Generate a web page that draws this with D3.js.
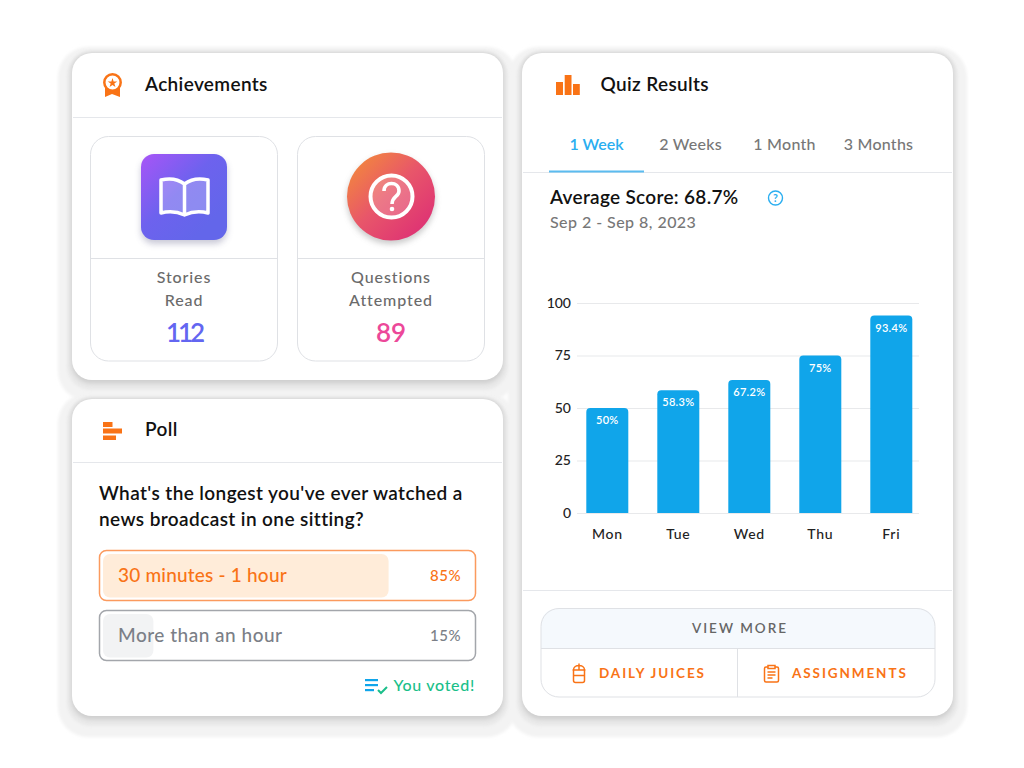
<!DOCTYPE html>
<html>
<head>
<meta charset="utf-8">
<script src="https://cdnjs.cloudflare.com/ajax/libs/d3/7.8.5/d3.min.js"></script>
<style>
html, body { margin: 0; padding: 0; background: #fff; }
svg { display: block; }
text { font-family: Lato, "Noto Sans", sans-serif; }
</style>
</head>
<body>
<div id="vis"></div>
<script>
// chart data
var days = ["Mon", "Tue", "Wed", "Thu", "Fri"];
var barValues = [50, 58.4, 63.3, 75, 94];
var barLabels = ["50%", "58.3%", "67.2%", "75%", "93.4%"];
var yTicks = [0, 25, 50, 75, 100];

var tabNames = ["1 Week", "2 Weeks", "1 Month", "3 Months"];

var pollOptions = ["30 minutes - 1 hour", "More than an hour"];
var pollPercents = [85, 15];

var achievementLines = [["Stories", "Read"], ["Questions", "Attempted"]];
var achievementCounts = [112, 89];

var orange = "#f97316", blue = "#10a5ea", line = "#e5e7eb";

var svg = d3.select("#vis").append("svg").attr("width", 1024).attr("height", 768);
var defs = svg.append("defs");

function blur(id, amount) {
    defs.append("filter").attr("id", id)
        .attr("x", "-20%").attr("y", "-20%").attr("width", "140%").attr("height", "140%")
        .append("feGaussianBlur").attr("stdDeviation", amount);
}
blur("soft", 1.5);
blur("tight", 2);
blur("icon", 3);

function gradient(id, x1, y1, x2, y2, stops) {
    var g = defs.append("linearGradient").attr("id", id)
        .attr("x1", x1).attr("y1", y1).attr("x2", x2).attr("y2", y2);
    stops.forEach(function(s) {
        g.append("stop").attr("offset", s[0]).attr("stop-color", s[1]);
    });
}
gradient("bookFill", 0, 0, 0.8, 0.8, [[0, "#a855f7"], [0.55, "#6d62ee"], [1, "#6366ea"]]);
gradient("questionFill", 0.1, 0.1, 0.85, 0.85, [[0, "#f2853f"], [0.5, "#e8566a"], [1, "#df3573"]]);

function label(g, str, x, y, size, color, weight, anchor, spacing) {
    return g.append("text").text(str)
        .attr("x", x).attr("y", y)
        .attr("font-size", size)
        .attr("fill", color)
        .attr("font-weight", weight || 400)
        .attr("text-anchor", anchor || "start")
        .attr("letter-spacing", spacing || null);
}

function hline(g, x1, x2, y, color) {
    g.append("line").attr("x1", x1).attr("x2", x2).attr("y1", y).attr("y2", y)
        .attr("stroke", color || line).attr("stroke-width", 1);
}

// the three white cards and their halo
var cards = [[72, 53, 431, 327], [72, 399, 431, 317], [522, 53, 431, 663]];
var halo = svg.append("g");
cards.forEach(function(c) {
    halo.append("rect").attr("x", c[0] - 14).attr("y", c[1] - 6)
        .attr("width", c[2] + 28).attr("height", c[3] + 27).attr("rx", 30)
        .attr("fill", "#f3f3f3").attr("filter", "url(#soft)");
});
cards.forEach(function(c) {
    halo.append("rect").attr("x", c[0] - 5).attr("y", c[1] - 1)
        .attr("width", c[2] + 10).attr("height", c[3] + 11).attr("rx", 24)
        .attr("fill", "#e9e9e9").attr("filter", "url(#soft)");
});
cards.forEach(function(c) {
    halo.append("rect").attr("x", c[0] - 0.5).attr("y", c[1] - 0.5)
        .attr("width", c[2] + 1).attr("height", c[3] + 4).attr("rx", 20)
        .attr("fill", "#cfcfcf").attr("filter", "url(#tight)");
});
cards.forEach(function(c) {
    halo.append("rect").attr("x", c[0]).attr("y", c[1])
        .attr("width", c[2]).attr("height", c[3]).attr("rx", 20)
        .attr("fill", "#fff");
});

// Achievements
var ach = svg.append("g");
label(ach, "Achievements", 145, 91, 19, "#111", 600, "start", 0.35);
hline(ach, 73, 502, 117.5);

ach.append("path").attr("d", "M105 88 V97 L112 94 L120 97 V88 Z").attr("fill", orange);
ach.append("circle").attr("cx", 112.5).attr("cy", 82.5).attr("r", 8.2)
    .attr("fill", "#fff").attr("stroke", orange).attr("stroke-width", 2.5);
ach.append("path")
    .attr("d", d3.symbol(d3.symbolStar, 28)())
    .attr("transform", "translate(112.5,83)").attr("fill", orange);

[184, 391].forEach(function(cx, i) {
    ach.append("rect").attr("x", cx - 93.5).attr("y", 136.5).attr("width", 187).attr("height", 224.5)
        .attr("rx", 18).attr("fill", "#fff").attr("stroke", "#dfe1e5");
    hline(ach, cx - 93.5, cx + 93.5, 258.5, "#dfe1e5");
    achievementLines[i].forEach(function(t, j) {
        label(ach, t, cx, 283 + j * 23, 16, "#6b6b6b", 500, "middle", 0.9);
    });
    label(ach, achievementCounts[i], cx, 342, 26, i == 0 ? "#6366f1" : "#ec4899", 600, "middle", i == 0 ? -3 : 0);
});

// book tile
ach.append("rect").attr("x", 141).attr("y", 158).attr("width", 86).attr("height", 86).attr("rx", 13)
    .attr("fill", "#8a8aa8").attr("opacity", 0.45).attr("filter", "url(#icon)");
ach.append("rect").attr("x", 141).attr("y", 154).attr("width", 86).attr("height", 86).attr("rx", 13)
    .attr("fill", "url(#bookFill)");
var bookPath = "M184.5 184 C178 179 169 178 161 180 V213 C169 211 178 212 184.5 215 C191 212 200 211 208 213 V180 C200 178 191 179 184.5 184 Z";
ach.append("path").attr("d", bookPath).attr("fill", "#fff").attr("fill-opacity", 0.25);
ach.append("path").attr("d", bookPath + " M184.5 184 V215")
    .attr("fill", "none").attr("stroke", "#fff").attr("stroke-width", 3.5).attr("stroke-linejoin", "round");

// question circle
ach.append("circle").attr("cx", 391).attr("cy", 200).attr("r", 44)
    .attr("fill", "#777").attr("opacity", 0.4).attr("filter", "url(#icon)");
ach.append("circle").attr("cx", 391).attr("cy", 196.5).attr("r", 44).attr("fill", "url(#questionFill)");
ach.append("circle").attr("cx", 391.5).attr("cy", 196.5).attr("r", 21)
    .attr("fill", "#fff").attr("fill-opacity", 0.2).attr("stroke", "#fff").attr("stroke-width", 4);
ach.append("path").attr("d", "M384 191 C384 181 399 181 399 191 C399 197 392 196 392 204")
    .attr("fill", "none").attr("stroke", "#fff").attr("stroke-width", 3.6);
ach.append("circle").attr("cx", 392).attr("cy", 209).attr("r", 2.3).attr("fill", "#fff");

// Poll
var poll = svg.append("g");
label(poll, "Poll", 145, 436, 19, "#111", 600, "start", 0.35);
hline(poll, 73, 502, 462.5);
var pollIcon = [[422, 5, 9.5], [428.5, 5, 19], [435.5, 4.5, 13]];
pollIcon.forEach(function(b) {
    poll.append("rect").attr("x", 103).attr("y", b[0]).attr("width", b[2]).attr("height", b[1]).attr("fill", orange);
});
label(poll, "What's the longest you've ever watched a", 99, 500, 19, "#111", 600, "start", 0.4);
label(poll, "news broadcast in one sitting?", 99, 526, 19, "#111", 600, "start", 0.4);

var pollWidth = d3.scaleLinear().domain([0, 100]).range([0, 336]);
var pollColors = [
    { stroke: "#fb9a5e", fill: "#ffecd9", text: orange },
    { stroke: "#a3a6ab", fill: "#f2f3f4", text: "#7b7f87" }
];
pollOptions.forEach(function(opt, i) {
    var top = 551 + i * 60, col = pollColors[i];
    poll.append("rect").attr("x", 99.5).attr("y", top - 0.5).attr("width", 376).attr("height", 50)
        .attr("rx", 7).attr("fill", "#fff").attr("stroke", col.stroke).attr("stroke-width", 1.5);
    poll.append("rect").attr("x", 103).attr("y", top + 3).attr("width", pollWidth(pollPercents[i])).attr("height", 43.5)
        .attr("rx", 7).attr("fill", col.fill);
    label(poll, opt, 118, top + 31, 19, col.text, 500, "start", i == 0 ? 0.2 : 0.5);
    label(poll, pollPercents[i] + "%", 461, top + 30, 15, col.text, 500, "end", 0.5);
});

[[365, 13], [365, 13], [365, 9]].forEach(function(b, i) {
    poll.append("rect").attr("x", b[0]).attr("y", 679 + i * 5).attr("width", b[1]).attr("height", 2.2).attr("fill", blue);
});
poll.append("path").attr("d", "M378 690 L381 693 L387 687").attr("fill", "none")
    .attr("stroke", "#1bbf8a").attr("stroke-width", 2);
label(poll, "You voted!", 475, 691, 16, "#1bbf8a", 500, "end", 0.7);

// Quiz results header
var quiz = svg.append("g");
label(quiz, "Quiz Results", 600.5, 91, 19, "#111", 600, "start", 0.35);
[[556, 82, 7], [564.7, 75, 6.8], [573, 84, 6.8]].forEach(function(b) {
    quiz.append("rect").attr("x", b[0]).attr("y", b[1]).attr("width", b[2]).attr("height", 95 - b[1]).attr("fill", orange);
});

var tabX = d3.scalePoint().domain(tabNames).range([596.5, 878.5]);
tabNames.forEach(function(t, i) {
    label(quiz, t, tabX(t), 150, 16, i == 0 ? "#2aaef0" : "#777", i == 0 ? 600 : 500, "middle", i == 0 ? 0 : 0.25);
});
hline(quiz, 523, 952, 172.5);
quiz.append("rect").attr("x", 549).attr("y", 170.5).attr("width", 95).attr("height", 2).attr("fill", "#5bbcf0");

label(quiz, "Average Score: 68.7%", 550, 204, 19, "#111", 600, "start", 0.3);
label(quiz, "Sep 2 - Sep 8, 2023", 550, 228, 16, "#777", 500, "start", 0.45);
quiz.append("circle").attr("cx", 775.5).attr("cy", 198).attr("r", 7).attr("fill", "none")
    .attr("stroke", "#2aaef0").attr("stroke-width", 1.4);
label(quiz, "?", 775.5, 202, 10.5, "#2aaef0", 700, "middle");

// bar chart
var x = d3.scaleBand().domain(days).range([586.3, 912.3]).paddingInner(29 / 71).paddingOuter(0);
var y = d3.scaleLinear().domain([0, 100]).range([513, 303]);

var chart = svg.append("g");

var yAxis = d3.axisLeft(y).tickValues(yTicks).tickSize(-342).tickPadding(6);
var yG = chart.append("g").attr("transform", "translate(577,0)").call(yAxis);
yG.select(".domain").remove();
yG.selectAll(".tick line").attr("stroke", "#e8e9eb").attr("stroke-width", 1.2);
yG.selectAll(".tick text").attr("font-size", 14).attr("fill", "#222").attr("font-weight", 500)
    .attr("font-family", "Lato, sans-serif");

var xAxis = d3.axisBottom(x).tickSize(0).tickPadding(16);
var xG = chart.append("g").attr("transform", "translate(0,513)").call(xAxis);
xG.select(".domain").remove();
xG.selectAll(".tick text").attr("font-size", 14).attr("fill", "#222").attr("font-weight", 500)
    .attr("font-family", "Lato, sans-serif").attr("letter-spacing", 0.7);

function topRounded(x0, y0, w, h, r) {
    return "M" + x0 + "," + (y0 + h) + "V" + (y0 + r) + "Q" + x0 + "," + y0 + " " + (x0 + r) + "," + y0 +
        "H" + (x0 + w - r) + "Q" + (x0 + w) + "," + y0 + " " + (x0 + w) + "," + (y0 + r) + "V" + (y0 + h) + "Z";
}

chart.selectAll(".bar").data(barValues).enter().append("path")
    .attr("class", "bar")
    .attr("fill", blue)
    .attr("d", function(d, i) {
        return topRounded(x(days[i]), y(d), x.bandwidth(), y(0) - y(d), 4);
    });

chart.selectAll(".bar-label").data(barValues).enter().append("text")
    .attr("class", "bar-label")
    .attr("x", function(d, i) { return x(days[i]) + x.bandwidth() / 2; })
    .attr("y", function(d) { return y(d) + 16; })
    .attr("text-anchor", "middle")
    .attr("font-size", 11)
    .attr("font-weight", 600)
    .attr("letter-spacing", 0.3)
    .attr("fill", "#fff")
    .text(function(d, i) { return barLabels[i]; });

// footer
var foot = svg.append("g");
hline(foot, 523, 952, 590.5);
foot.append("path")
    .attr("d", "M541 648.5 V626.5 Q541 608.5 559 608.5 H917 Q935 608.5 935 626.5 V648.5 Z")
    .attr("fill", "#f5f9fd");
foot.append("rect").attr("x", 541).attr("y", 608.5).attr("width", 394).attr("height", 88.5)
    .attr("rx", 18).attr("fill", "none").attr("stroke", "#dfe1e5");
hline(foot, 541, 935, 648.5, "#dfe1e5");
foot.append("line").attr("x1", 737.5).attr("x2", 737.5).attr("y1", 649).attr("y2", 697).attr("stroke", "#dfe1e5");
label(foot, "VIEW MORE", 740, 633, 13.5, "#666", 600, "middle", 2);
label(foot, "DAILY JUICES", 599, 678, 13.5, orange, 700, "start", 1.9);
label(foot, "ASSIGNMENTS", 792, 678, 13.5, orange, 700, "start", 1.9);

// juice cup
foot.append("path")
    .attr("d", "M573.5 670 C573.5 664 584.5 664 584.5 670 V680.5 Q584.5 682.5 582.5 682.5 H575.5 Q573.5 682.5 573.5 680.5 Z M572.5 670 H585.5 M573.5 675.5 H584.5 M579 664 V670 M579 663.5 V664")
    .attr("fill", "none").attr("stroke", orange).attr("stroke-width", 1.5);
// clipboard
foot.append("path")
    .attr("d", "M768 667 H766 Q764.5 667 764.5 668.5 V680.5 Q764.5 682 766 682 H777 Q778.5 682 778.5 680.5 V668.5 Q778.5 667 777 667 H775 M768 665.5 H775 V668.5 H768 Z M767.5 672 H775.5 M767.5 675 H775.5 M767.5 678 H772.5")
    .attr("fill", "none").attr("stroke", orange).attr("stroke-width", 1.5);
</script>
</body>
</html>
